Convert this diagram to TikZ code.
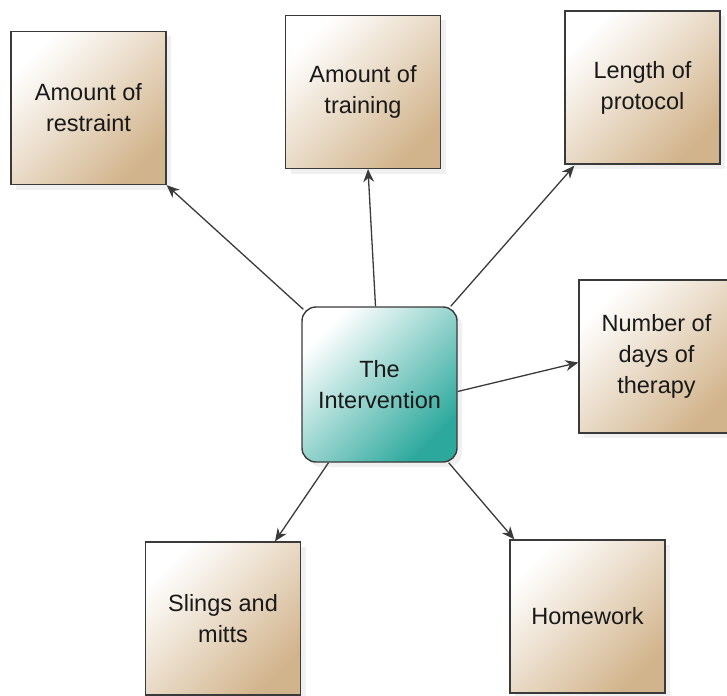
\documentclass[tikz,border=0pt]{standalone}
\usepackage{fontspec}
\setmainfont{Liberation Sans}
\usetikzlibrary{arrows.meta,shadows}
\definecolor{boxtan}{HTML}{D2B48C}
\definecolor{hubteal}{HTML}{2CA89C}
\definecolor{edgegray}{HTML}{3A3A3A}
\tikzset{
 factor/.style={rectangle,draw=edgegray,line width=1.4pt,minimum width=155pt,minimum height=153pt,inner sep=0,
  top color=white,bottom color=boxtan,shading angle=45,align=center,
  font=\fontsize{23.5}{31}\selectfont,text=black!90,
  drop shadow={opacity=.12,shadow xshift=5pt,shadow yshift=-5pt}},
 hub/.style={factor,rounded corners=14pt,minimum height=155pt,top color=white,bottom color=hubteal,shading angle=45},
 link/.style={line width=1.3pt,draw=edgegray,-{Stealth[length=4.5mm,width=3.8mm]}}
}
\begin{document}
\begin{tikzpicture}[x=1pt,y=-1pt]
\path[use as bounding box] (0,0) rectangle (727,695);
\node[factor] (restraint) at (88.5,108) {Amount of\\restraint};
\node[factor] (training) at (363,92) {Amount of\\training};
\node[factor] (protocol) at (642.5,87.5) {Length of\\protocol};
\node[factor] (days) at (656.5,356.5) {Number of\\days of\\therapy};
\node[factor] (slings) at (223,618.5) {Slings and\\mitts};
\node[factor] (homework) at (587.5,616.5) {Homework};
\node[hub] (hub) at (379.5,384.5) {The\\Intervention};
\draw[link] ([xshift=2pt,yshift=-3pt]hub.north west) -- (restraint.south east);
\draw[link] ([xshift=-4pt]hub.north) -- ([xshift=5pt]training.south);
\draw[link] ([xshift=-7pt]hub.north east) -- ([xshift=10pt,yshift=-1pt]protocol.south west);
\draw[link] ([yshift=-7pt]hub.east) -- ([yshift=-6pt]days.west);
\draw[link] ([xshift=-51pt]hub.south) -- ([xshift=52pt]slings.north);
\draw[link] ([xshift=-9pt]hub.south east) -- ([xshift=5pt]homework.north west);
\end{tikzpicture}
\end{document}
